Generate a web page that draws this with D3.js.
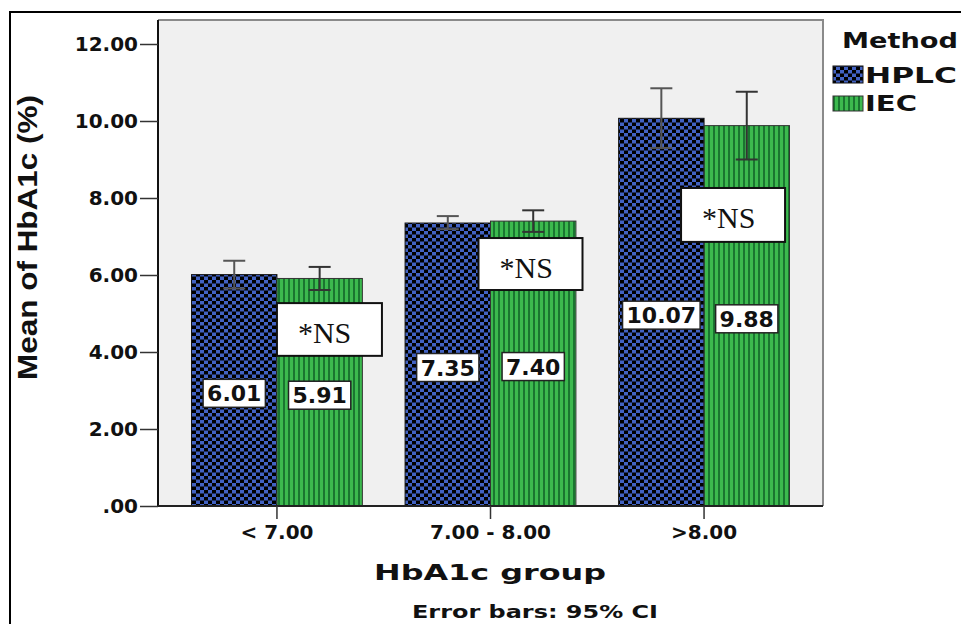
<!DOCTYPE html>
<html>
<head>
<meta charset="utf-8">
<script src="https://cdn.jsdelivr.net/npm/d3@7"></script>
<style>
  html, body { margin: 0; padding: 0; background: #fff; }
  svg { display: block; }
</style>
</head>
<body>
<svg id="chart" width="961" height="624"></svg>
<script>
// ---- data ----
const groups = ["< 7.00", "7.00 - 8.00", ">8.00"];
const methods = ["HPLC", "IEC"];
const hplcMeans = [6.01, 7.35, 10.07];
const iecMeans = [5.91, 7.40, 9.88];
const hplcCILow = [5.65, 7.19, 9.30];
const hplcCIHigh = [6.37, 7.53, 10.85];
const iecCILow = [5.61, 7.12, 9.00];
const iecCIHigh = [6.21, 7.68, 10.76];
const yTicks = [0, 2, 4, 6, 8, 10, 12];
const yTickLabels = [".00", "2.00", "4.00", "6.00", "8.00", "10.00", "12.00"];
const nsNotes = ["*NS", "*NS", "*NS"];

// ---- layout ----
const plot = { left: 158, right: 823, top: 20, bottom: 506 };
const FONT = "'DejaVu Sans', sans-serif";
const ARIAL = "'Liberation Sans', Arial, sans-serif";
// significance boxes: offset from group centre (px) and vertical extent in data units
const noteLayout = [
  { dx: 0,   top: 5.27, bottom: 3.90, w: 105 },
  { dx: -12, top: 6.96, bottom: 5.61, w: 104 },
  { dx: -23, top: 8.26, bottom: 6.86, w: 104 }
];

const svg = d3.select("#chart");

const x0 = d3.scaleBand().domain(groups)
  .range([plot.left, plot.right]).paddingInner(0.2).paddingOuter(0.157);
const x1 = d3.scaleBand().domain(methods).range([0, x0.bandwidth()]);
const y = d3.scaleLinear().domain([0, 12]).range([506, 44]);

// ---- fill patterns ----
const defs = svg.append("defs");
const chk = defs.append("pattern").attr("id", "chk")
  .attr("patternUnits", "userSpaceOnUse").attr("width", 8).attr("height", 7);
chk.append("rect").attr("width", 8).attr("height", 7).attr("fill", "#000");
chk.append("rect").attr("x", 0).attr("y", 0).attr("width", 4).attr("height", 3.5).attr("fill", "#4262c2");
chk.append("rect").attr("x", 4).attr("y", 3.5).attr("width", 4).attr("height", 3.5).attr("fill", "#4262c2");

const str = defs.append("pattern").attr("id", "str")
  .attr("patternUnits", "userSpaceOnUse").attr("width", 5).attr("height", 10);
str.append("rect").attr("width", 5).attr("height", 10).attr("fill", "#1a7530");
str.append("rect").attr("x", 0).attr("width", 3).attr("height", 10).attr("fill", "#3cb94e");

const fills = { HPLC: "url(#chk)", IEC: "url(#str)" };
const edges = { HPLC: "#111", IEC: "#333" };
const ebColor = { HPLC: "#555", IEC: "#333" };

// ---- outer frame ----
svg.append("rect").attr("x", 10).attr("y", 12).attr("width", 980).attr("height", 700)
  .attr("fill", "none").attr("stroke", "#000").attr("stroke-width", 2);

// ---- plot background ----
svg.append("rect")
  .attr("x", plot.left).attr("y", plot.top)
  .attr("width", plot.right - plot.left).attr("height", plot.bottom - plot.top)
  .attr("fill", "#f0f0f0");
svg.append("path")
  .attr("d", `M${plot.left},${plot.top}H${plot.right}V${plot.bottom}`)
  .attr("fill", "none").attr("stroke", "#8a8a8a").attr("stroke-width", 2);

// ---- series ----
const series = methods.map((m, i) => ({
  method: m,
  means: i === 0 ? hplcMeans : iecMeans,
  lo: i === 0 ? hplcCILow : iecCILow,
  hi: i === 0 ? hplcCIHigh : iecCIHigh
}));

const barData = [];
series.forEach(s => groups.forEach((g, gi) => barData.push({
  group: g, gi, method: s.method, value: s.means[gi], lo: s.lo[gi], hi: s.hi[gi]
})));

const bars = svg.append("g");
bars.selectAll("rect").data(barData).join("rect")
  .attr("x", d => x0(d.group) + x1(d.method))
  .attr("y", d => y(d.value))
  .attr("width", x1.bandwidth())
  .attr("height", d => y(0) - y(d.value))
  .attr("fill", d => fills[d.method])
  .attr("stroke", d => edges[d.method]).attr("stroke-width", 1);

// ---- error bars (95% CI) ----
const eb = svg.append("g");
barData.forEach(d => {
  const cx = x0(d.group) + x1(d.method) + x1.bandwidth() / 2;
  const c = ebColor[d.method];
  eb.append("line").attr("x1", cx).attr("x2", cx).attr("y1", y(d.lo)).attr("y2", y(d.hi))
    .attr("stroke", c).attr("stroke-width", 2);
  [d.lo, d.hi].forEach(v => eb.append("line")
    .attr("x1", cx - 11).attr("x2", cx + 11).attr("y1", y(v)).attr("y2", y(v))
    .attr("stroke", c).attr("stroke-width", 2));
});

// ---- value labels ----
const lab = svg.append("g");
barData.forEach(d => {
  const cx = x0(d.group) + x1(d.method) + x1.bandwidth() / 2;
  const cy = (y(d.value) + y(0)) / 2 + 3;
  const g = lab.append("g");
  const t = g.append("text").attr("x", cx).attr("y", cy + 8)
    .attr("text-anchor", "middle").attr("font-family", FONT)
    .attr("font-weight", "bold").attr("font-size", 22).attr("fill", "#111")
    .text(d.value.toFixed(2));
  const w = t.node().getComputedTextLength() + 8;
  g.insert("rect", "text").attr("x", cx - w / 2).attr("y", cy - 14)
    .attr("width", w).attr("height", 28)
    .attr("fill", "#fff").attr("stroke", "#222").attr("stroke-width", 1.5);
});

// ---- significance notes ----
const notes = svg.append("g");
groups.forEach((g, gi) => {
  const L = noteLayout[gi];
  const left = x0(g) + x0.bandwidth() / 2 + L.dx;
  const top = y(L.top), bot = y(L.bottom);
  notes.append("rect").attr("x", left).attr("y", top)
    .attr("width", L.w).attr("height", bot - top)
    .attr("fill", "#fff").attr("stroke", "#111").attr("stroke-width", 2);
  notes.append("text").attr("x", left + 21).attr("y", top + 40)
    .attr("font-family", "'Liberation Serif', 'Times New Roman', serif")
    .attr("font-size", 30).attr("fill", "#111").text(nsNotes[gi]);
});

// ---- axes ----
const yAxis = svg.append("g").attr("transform", `translate(${plot.left},0)`)
  .call(d3.axisLeft(y).tickValues(yTicks).tickSize(18).tickPadding(2)
    .tickFormat((d, i) => yTickLabels[i]));
yAxis.select(".domain").attr("d", `M0,${plot.top}V${plot.bottom}`)
  .attr("stroke", "#111").attr("stroke-width", 2);
yAxis.selectAll(".tick line").attr("stroke", "#333").attr("stroke-width", 1.5);
yAxis.selectAll(".tick text").attr("font-family", FONT).attr("font-weight", "bold")
  .attr("font-size", 20).attr("fill", "#111");

const xAxis = svg.append("g").attr("transform", `translate(0,${plot.bottom})`)
  .call(d3.axisBottom(x0).tickSize(13).tickPadding(6));
xAxis.select(".domain").attr("d", `M${plot.left},0H${plot.right}`)
  .attr("stroke", "#222").attr("stroke-width", 2);
xAxis.selectAll(".tick line").attr("stroke", "#333").attr("stroke-width", 1.5);
xAxis.selectAll(".tick text").attr("font-family", FONT).attr("font-weight", "bold")
  .attr("font-size", 20).attr("fill", "#111");

// ---- titles ----
function stretchText(sel, len) {
  return sel.attr("textLength", len).attr("lengthAdjust", "spacingAndGlyphs");
}
stretchText(svg.append("text").attr("x", 490).attr("y", 580)
  .attr("text-anchor", "middle").attr("font-family", FONT).attr("font-weight", "bold")
  .attr("font-size", 21).attr("fill", "#111").text("HbA1c group"), 232);

stretchText(svg.append("text").attr("x", 535).attr("y", 618)
  .attr("text-anchor", "middle").attr("font-family", FONT).attr("font-weight", "bold")
  .attr("font-size", 17).attr("fill", "#111").text("Error bars: 95% CI"), 246);

stretchText(svg.append("text").attr("transform", "translate(37,237.5) rotate(-90)")
  .attr("text-anchor", "middle").attr("font-family", ARIAL).attr("font-weight", "bold")
  .attr("font-size", 27).attr("fill", "#111").text("Mean of HbA1c (%)"), 285);

// ---- legend ----
const leg = svg.append("g");
stretchText(leg.append("text").attr("x", 842).attr("y", 48)
  .attr("font-family", FONT).attr("font-weight", "bold").attr("font-size", 21)
  .attr("fill", "#111").text("Method"), 116);
const legRows = [
  { m: methods[0], sy: 66, sh: 17, ty: 83, tw: 92 },
  { m: methods[1], sy: 96, sh: 15, ty: 111, tw: 52 }
];
legRows.forEach(r => {
  leg.append("rect").attr("x", 833).attr("y", r.sy).attr("width", 30).attr("height", r.sh)
    .attr("fill", fills[r.m]).attr("stroke", edges[r.m]).attr("stroke-width", 1);
  stretchText(leg.append("text").attr("x", 865).attr("y", r.ty)
    .attr("font-family", FONT).attr("font-weight", "bold").attr("font-size", 22)
    .attr("fill", "#111").text(r.m), r.tw);
});
</script>
</body>
</html>
